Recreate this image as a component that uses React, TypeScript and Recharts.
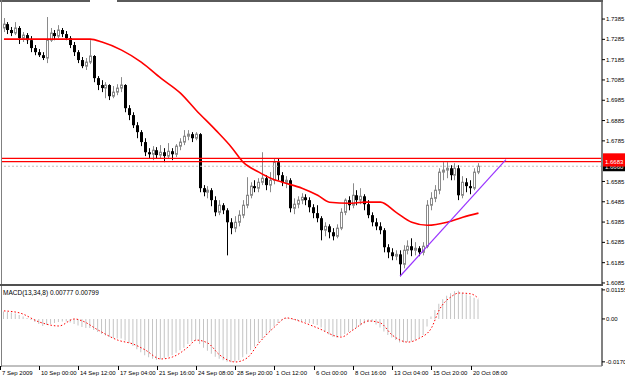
import { ComposedChart, Bar, Line, XAxis, YAxis, ReferenceLine } from 'recharts';

// GBPUSD H4 style candles
const OPEN = [
  1.7341, 1.7360, 1.7331, 1.7316, 1.7341, 1.7291, 1.7306, 1.7281, 1.7242, 1.7222,
  1.7207, 1.7193, 1.7281, 1.7316, 1.7301, 1.7331, 1.7311, 1.7291, 1.7257, 1.7222,
  1.7183, 1.7153, 1.7173, 1.7203, 1.7094, 1.7060, 1.7045, 1.7060, 1.7005, 1.7025,
  1.7045, 1.7060, 1.6946, 1.6912, 1.6862, 1.6828, 1.6779, 1.6729, 1.6719, 1.6739,
  1.6715, 1.6729, 1.6710, 1.6734, 1.6719, 1.6759, 1.6779, 1.6808, 1.6818, 1.6798,
  1.6818, 1.6552, 1.6532, 1.6542, 1.6493, 1.6433, 1.6468, 1.6443, 1.6384, 1.6355,
  1.6384, 1.6419, 1.6468, 1.6517, 1.6562, 1.6552, 1.6581, 1.6601, 1.6567, 1.6591,
  1.6680, 1.6616, 1.6581, 1.6591, 1.6453, 1.6473, 1.6493, 1.6507, 1.6493, 1.6458,
  1.6429, 1.6404, 1.6345, 1.6364, 1.6335, 1.6315, 1.6355, 1.6433, 1.6493, 1.6468,
  1.6517, 1.6493, 1.6512, 1.6473, 1.6419, 1.6384, 1.6364, 1.6345, 1.6261, 1.6236,
  1.6217, 1.6226, 1.6177, 1.6246, 1.6266, 1.6246, 1.6256, 1.6236, 1.6266, 1.6468,
  1.6502, 1.6542, 1.6631, 1.6641, 1.6650, 1.6616, 1.6650, 1.6517, 1.6581, 1.6562,
  1.6552, 1.6631,
];
const HIGH = [
  1.7390, 1.7370, 1.7346, 1.7370, 1.7350, 1.7321, 1.7316, 1.7301, 1.7257, 1.7237,
  1.7222, 1.7395, 1.7341, 1.7331, 1.7355, 1.7341, 1.7326, 1.7301, 1.7272, 1.7232,
  1.7198, 1.7193, 1.7281, 1.7207, 1.7104, 1.7084, 1.7074, 1.7064, 1.7055, 1.7064,
  1.7099, 1.7064, 1.6961, 1.6926, 1.6877, 1.6838, 1.6798, 1.6749, 1.6759, 1.6754,
  1.6764, 1.6749, 1.6774, 1.6749, 1.6769, 1.6798, 1.6838, 1.6838, 1.6828, 1.6828,
  1.6823, 1.6567, 1.6562, 1.6552, 1.6512, 1.6493, 1.6478, 1.6453, 1.6404, 1.6414,
  1.6443, 1.6493, 1.6606, 1.6581, 1.6591, 1.6601, 1.6729, 1.6616, 1.6631, 1.6700,
  1.6700, 1.6631, 1.6611, 1.6601, 1.6502, 1.6512, 1.6527, 1.6522, 1.6507, 1.6473,
  1.6468, 1.6414, 1.6384, 1.6374, 1.6355, 1.6374, 1.6453, 1.6502, 1.6512, 1.6576,
  1.6542, 1.6552, 1.6522, 1.6493, 1.6433, 1.6404, 1.6384, 1.6355, 1.6276, 1.6256,
  1.6246, 1.6246, 1.6271, 1.6295, 1.6305, 1.6286, 1.6266, 1.6286, 1.6493, 1.6532,
  1.6567, 1.6650, 1.6680, 1.6680, 1.6665, 1.6675, 1.6665, 1.6611, 1.6601, 1.6591,
  1.6650, 1.6675,
];
const LOW = [
  1.7321, 1.7311, 1.7301, 1.7306, 1.7262, 1.7272, 1.7262, 1.7222, 1.7207, 1.7198,
  1.7183, 1.7168, 1.7272, 1.7281, 1.7291, 1.7296, 1.7281, 1.7242, 1.7203, 1.7168,
  1.7143, 1.7134, 1.7163, 1.7074, 1.7035, 1.7025, 1.6995, 1.6986, 1.6995, 1.7010,
  1.7025, 1.6926, 1.6887, 1.6848, 1.6798, 1.6759, 1.6710, 1.6700, 1.6690, 1.6700,
  1.6700, 1.6680, 1.6700, 1.6690, 1.6705, 1.6739, 1.6764, 1.6788, 1.6779, 1.6788,
  1.6532, 1.6512, 1.6502, 1.6463, 1.6414, 1.6419, 1.6424, 1.6221, 1.6325, 1.6335,
  1.6364, 1.6404, 1.6453, 1.6502, 1.6532, 1.6532, 1.6567, 1.6542, 1.6532, 1.6571,
  1.6591, 1.6562, 1.6552, 1.6433, 1.6424, 1.6453, 1.6473, 1.6468, 1.6433, 1.6404,
  1.6384, 1.6295, 1.6315, 1.6305, 1.6295, 1.6305, 1.6345, 1.6419, 1.6443, 1.6453,
  1.6468, 1.6473, 1.6443, 1.6404, 1.6364, 1.6345, 1.6325, 1.6236, 1.6207, 1.6197,
  1.6197, 1.6118, 1.6157, 1.6226, 1.6217, 1.6221, 1.6217, 1.6221, 1.6256, 1.6443,
  1.6483, 1.6522, 1.6591, 1.6601, 1.6591, 1.6591, 1.6493, 1.6502, 1.6532, 1.6522,
  1.6542, 1.6621,
];
const CLOSE = [
  1.7360, 1.7331, 1.7316, 1.7341, 1.7291, 1.7306, 1.7281, 1.7242, 1.7222, 1.7207,
  1.7193, 1.7281, 1.7316, 1.7301, 1.7331, 1.7311, 1.7291, 1.7257, 1.7222, 1.7183,
  1.7153, 1.7173, 1.7203, 1.7094, 1.7060, 1.7045, 1.7060, 1.7005, 1.7025, 1.7045,
  1.7060, 1.6946, 1.6912, 1.6862, 1.6828, 1.6779, 1.6729, 1.6719, 1.6739, 1.6715,
  1.6729, 1.6710, 1.6734, 1.6719, 1.6759, 1.6779, 1.6808, 1.6818, 1.6798, 1.6818,
  1.6552, 1.6532, 1.6542, 1.6493, 1.6433, 1.6468, 1.6443, 1.6384, 1.6355, 1.6384,
  1.6419, 1.6468, 1.6517, 1.6562, 1.6552, 1.6581, 1.6601, 1.6567, 1.6591, 1.6680,
  1.6616, 1.6581, 1.6591, 1.6453, 1.6473, 1.6493, 1.6507, 1.6493, 1.6458, 1.6429,
  1.6404, 1.6345, 1.6364, 1.6335, 1.6315, 1.6355, 1.6433, 1.6493, 1.6468, 1.6517,
  1.6493, 1.6512, 1.6473, 1.6419, 1.6384, 1.6364, 1.6345, 1.6261, 1.6236, 1.6217,
  1.6226, 1.6177, 1.6246, 1.6266, 1.6246, 1.6256, 1.6236, 1.6266, 1.6468, 1.6502,
  1.6542, 1.6631, 1.6641, 1.6650, 1.6616, 1.6650, 1.6517, 1.6581, 1.6562, 1.6552,
  1.6631, 1.6660,
];

// moving average, sampled along the red curve
const MA_IDX = [0, 10, 15, 20, 22, 25, 30, 35, 40, 45, 49, 54, 58, 61, 65, 68, 71, 76, 80, 83, 88, 92, 96, 100, 104, 108, 113, 117, 121];
const MA_VAL = [
  1.7286, 1.7286, 1.7286, 1.7286, 1.7286, 1.7272, 1.7232, 1.7173, 1.7094, 1.7020,
  1.6936, 1.6838, 1.6754, 1.6680, 1.6631, 1.6601, 1.6581, 1.6552, 1.6517, 1.6483,
  1.6478, 1.6483, 1.6483, 1.6433, 1.6384, 1.6369, 1.6384, 1.6409, 1.6429,
];

// MACD(13,34,8) histogram and signal
const HIST = [
  0.0030, 0.0028, 0.0026, 0.0022, 0.0016, 0.0010, 0.0004, -0.0004, -0.0012, -0.0020,
  -0.0028, -0.0024, -0.0020, -0.0016, -0.0012, -0.0010, -0.0010, -0.0014, -0.0020, -0.0026,
  -0.0032, -0.0036, -0.0036, -0.0044, -0.0052, -0.0060, -0.0066, -0.0072, -0.0076, -0.0078,
  -0.0078, -0.0086, -0.0096, -0.0108, -0.0120, -0.0132, -0.0144, -0.0152, -0.0158, -0.0162,
  -0.0160, -0.0156, -0.0150, -0.0144, -0.0134, -0.0124, -0.0114, -0.0100, -0.0090, -0.0086,
  -0.0100, -0.0114, -0.0126, -0.0138, -0.0150, -0.0158, -0.0164, -0.0170, -0.0172, -0.0170,
  -0.0164, -0.0152, -0.0140, -0.0124, -0.0110, -0.0094, -0.0078, -0.0064, -0.0048, -0.0030,
  -0.0016, -0.0006, 0.0004, 0.0002, -0.0004, -0.0008, -0.0010, -0.0012, -0.0016, -0.0020,
  -0.0024, -0.0034, -0.0050, -0.0062, -0.0072, -0.0074, -0.0068, -0.0060, -0.0052, -0.0044,
  -0.0034, -0.0026, -0.0018, -0.0012, -0.0010, -0.0022, -0.0034, -0.0050, -0.0064, -0.0074,
  -0.0084, -0.0094, -0.0094, -0.0092, -0.0090, -0.0084, -0.0076, -0.0064, -0.0030, 0.0010,
  0.0036, 0.0060, 0.0078, 0.0092, 0.0102, 0.0110, 0.0112, 0.0104, 0.0098, 0.0092,
  0.0084, 0.0078,
];
const SIG_IDX = [0, 4, 9, 14, 18, 20, 24, 29, 33, 36, 40, 43, 47, 49, 52, 55, 59, 62, 65, 69, 72, 76, 80, 86, 89, 93, 96, 99, 103, 106, 109, 111, 114, 116, 119, 121];
const SIG_VAL = [
  0.0032, 0.0024, -0.0012, -0.0028, 0.0000, -0.0008, -0.0044, -0.0084, -0.0100, -0.0123,
  -0.0159, -0.0151, -0.0111, -0.0084, -0.0096, -0.0143, -0.0171, -0.0155, -0.0096, -0.0032,
  0.0004, -0.0012, -0.0036, -0.0072, -0.0044, -0.0008, -0.0016, -0.0064, -0.0092, -0.0076,
  -0.0036, 0.0036, 0.0088, 0.0103, 0.0100, 0.0082,
];

const TICK_IDX = [0, 10, 20, 30, 40, 50, 60, 70, 80, 90, 100, 110, 120];
const TICK_LABELS = [
  '7 Sep 2009', '10 Sep 00:00', '14 Sep 12:00', '17 Sep 04:00', '21 Sep 16:00', '24 Sep 08:00',
  '28 Sep 20:00', '1 Oct 12:00', '6 Oct 00:00', '8 Oct 16:00', '13 Oct 04:00', '15 Oct 20:00', '20 Oct 08:00',
];
const PRICE_TICKS = [1.6085, 1.6185, 1.6285, 1.6385, 1.6485, 1.6585, 1.6785, 1.6885, 1.6985, 1.7085, 1.7185, 1.7285, 1.7385];
const MACD_TICKS = [-0.01705, 0, 0.01155];
const LEVELS = [1.6699, 1.6683];
const BID = 1.666;
const TREND = [
  { i: 101, p: 1.6118 },
  { i: 128, p: 1.6693 },
];

const SLOTS = 153;
const FONT = 'Liberation Sans, Arial, sans-serif';

const rows = Array.from({ length: SLOTS }, (_, i) => {
  const r: Record<string, any> = { i };
  if (i < CLOSE.length) {
    r.o = OPEN[i];
    r.h = HIGH[i];
    r.l = LOW[i];
    r.c = CLOSE[i];
    r.range = [LOW[i], HIGH[i]];
    r.hist = HIST[i];
  }
  const m = MA_IDX.indexOf(i);
  if (m >= 0) r.ma = MA_VAL[m];
  const s = SIG_IDX.indexOf(i);
  if (s >= 0) r.sig = SIG_VAL[s];
  return r;
});

function Candle(props: any) {
  const { x, width, payload } = props;
  let { y, height } = props;
  if (!payload || payload.o == null) return null;
  if (height < 0) {
    y += height;
    height = -height;
  }
  const { o, h, l, c } = payload;
  const k = height / (h - l);
  const mid = Math.round(x + width / 2);
  const yo = y + (h - o) * k;
  const yc = y + (h - c) * k;
  const top = Math.min(yo, yc);
  const bh = Math.max(Math.abs(yo - yc), 1);
  const up = c > o;
  const col = up ? '#8a8a8a' : '#000';
  return (
    <g>
      <line x1={mid + 0.5} x2={mid + 0.5} y1={y} y2={y + height} stroke={col} />
      {up ? (
        <rect x={mid - 0.5} y={top} width={2} height={bh} fill="#fff" stroke={col} />
      ) : (
        <rect x={mid - 1} y={top} width={3} height={bh} fill="#000" />
      )}
    </g>
  );
}

function Tag({ viewBox, text, bg }: any) {
  if (!viewBox) return null;
  const x = viewBox.x + viewBox.width + 1;
  const y = viewBox.y;
  return (
    <g>
      <rect x={x} y={y - 5} width={23} height={10} fill={bg} />
      <text x={x + 2} y={y + 2.5} fontSize={6} fill="#fff" fontFamily={FONT}>
        {text}
      </text>
    </g>
  );
}

function TimeTick({ x, y, payload }: any) {
  const k = TICK_IDX.indexOf(payload.value);
  if (k < 0) return null;
  const x0 = Math.round(x - 4);
  return (
    <g>
      <line x1={x0 + 0.5} x2={x0 + 0.5} y1={y} y2={y + 4} stroke="#000" />
      <text x={x0 + 2} y={y + 9} fontSize={6} fill="#000" fontFamily={FONT}>
        {TICK_LABELS[k]}
      </text>
    </g>
  );
}

const axisTick = { fontSize: 6, fill: '#000', fontFamily: FONT };

export default function App() {
  return (
    <div
      style={{
        position: 'fixed',
        left: 0,
        top: 0,
        width: 625,
        height: 378,
        background: '#fff',
        overflow: 'hidden',
        fontFamily: FONT,
      }}
    >
      <div style={{ position: 'absolute', left: 0, top: 0 }}>
        <ComposedChart width={625} height={285} data={rows} margin={{ top: 2, right: 0, bottom: 0, left: 2 }}>
          <XAxis dataKey="i" type="category" hide />
          <YAxis
            orientation="right"
            domain={[1.6075, 1.7469]}
            ticks={PRICE_TICKS}
            interval={0}
            width={23}
            tick={axisTick}
            tickSize={3}
            tickMargin={1}
            tickLine={{ stroke: '#000' }}
            axisLine={{ stroke: '#808080', strokeWidth: 2 }}
            tickFormatter={(v: number) => v.toFixed(4)}
            allowDataOverflow
          />
          <ReferenceLine
            y={BID}
            stroke="#c0c0c0"
            strokeDasharray="2 2"
            label={(p: any) => <Tag {...p} text={BID.toFixed(4)} bg="#000" />}
          />
          {LEVELS.map((lv) => (
            <ReferenceLine
              key={lv}
              y={lv}
              stroke="#ff0000"
              strokeWidth={1.2}
              label={(p: any) => <Tag {...p} text={lv.toFixed(4)} bg="#ff0000" />}
            />
          ))}
          <Bar dataKey="range" barSize={3} shape={Candle} isAnimationActive={false} />
          <Line
            dataKey="ma"
            type="monotone"
            stroke="#ff0000"
            strokeWidth={1.6}
            dot={false}
            connectNulls
            isAnimationActive={false}
          />
          <ReferenceLine
            segment={TREND.map((t) => ({ x: t.i, y: t.p }))}
            stroke="#9933ff"
            strokeWidth={1.2}
          />
        </ComposedChart>
      </div>
      <div style={{ position: 'absolute', left: 0, top: 286 }}>
        <ComposedChart width={625} height={92} data={rows} margin={{ top: 2, right: 0, bottom: 0, left: 2 }}>
          <XAxis
            dataKey="i"
            type="category"
            ticks={TICK_IDX}
            interval={0}
            height={12}
            tickSize={0}
            tickMargin={0}
            tickLine={false}
            axisLine={{ stroke: '#808080' }}
            tick={(p: any) => <TimeTick {...p} />}
          />
          <YAxis
            orientation="right"
            domain={[-0.0187, 0.0123]}
            ticks={MACD_TICKS}
            interval={0}
            width={23}
            tick={axisTick}
            tickSize={3}
            tickMargin={1}
            tickLine={{ stroke: '#000' }}
            axisLine={{ stroke: '#808080', strokeWidth: 2 }}
            tickFormatter={(v: number) => (v === 0 ? '0.00' : v.toFixed(5))}
            allowDataOverflow
          />
          <Bar dataKey="hist" barSize={1} fill="#c4c4c4" isAnimationActive={false} />
          <Line
            dataKey="sig"
            type="monotone"
            stroke="#ff0000"
            strokeWidth={1}
            strokeDasharray="1.5 2"
            dot={false}
            connectNulls
            isAnimationActive={false}
          />
        </ComposedChart>
      </div>
      <div style={{ position: 'absolute', left: 3, top: 289, fontSize: 6.5, color: '#000', whiteSpace: 'nowrap' }}>
        MACD(13,34,8) 0.00777 0.00799
      </div>
      <div style={{ position: 'absolute', left: 0, top: 0, width: 90, height: 2, background: '#5a5a5a' }} />
      <div style={{ position: 'absolute', left: 117, top: 0, width: 486, height: 2, background: '#5a5a5a' }} />
      <div style={{ position: 'absolute', left: 1, top: 0, width: 1, height: 367, background: '#808080' }} />
      <div style={{ position: 'absolute', left: 0, top: 284, width: 603, height: 2, background: '#505050' }} />
    </div>
  );
}
